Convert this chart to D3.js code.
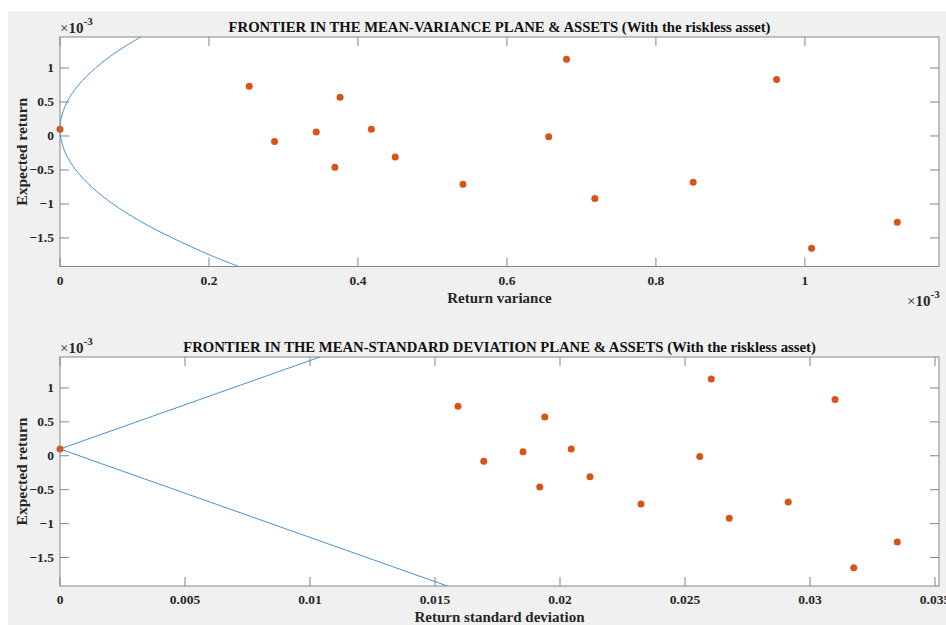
<!DOCTYPE html>
<html>
<head>
<meta charset="utf-8">
<script src="https://cdn.jsdelivr.net/npm/d3@7"></script>
<style>
  body { margin: 0; background: #fff; }
  svg { display: block; }
  text { font-family: "Liberation Serif", "Times New Roman", serif; font-weight: bold; fill: #262626; }
</style>
</head>
<body>
<div id="chart"></div>
<script>
// Asset values (variance and mean in units of 1e-3)
const assetVar  = [0.254, 0.288, 0.344, 0.369, 0.376, 0.418, 0.450, 0.541, 0.656, 0.680, 0.718, 0.850, 0.962, 1.009, 1.124];
const assetStd  = [0.01592, 0.01695, 0.01852, 0.01919, 0.01939, 0.02045, 0.0212, 0.02324, 0.02559, 0.02605, 0.02677, 0.02913, 0.0310, 0.03175, 0.03349];
const assetMean = [0.73, -0.08, 0.06, -0.46, 0.57, 0.10, -0.31, -0.71, -0.01, 1.13, -0.92, -0.68, 0.83, -1.65, -1.27];

// Riskless asset
const risklessMean = 0.1;
const risklessVar = 0;
const risklessStd = 0;

// Frontier in mean-variance plane
const frontierMean = [-1.92, -1.75, -1.5, -1.25, -1.0, -0.75, -0.5, -0.25, 0, 0.1, 0.25, 0.5, 0.75, 1.0, 1.25, 1.46];
const frontierVar  = [0.240, 0.201, 0.151, 0.107, 0.071, 0.0425, 0.0212, 0.0072, 0.0006, 0, 0.0013, 0.0094, 0.0248, 0.0476, 0.0778, 0.1088];

// Frontier in mean-std plane (capital market lines)
const cmlStd  = [0.0104, 0, 0.01551];
const cmlMean = [1.456, 0.1, -1.922];

// Tick labels
const yTicks = [-1.5, -1, -0.5, 0, 0.5, 1];
const xTicksVar = [0, 0.2, 0.4, 0.6, 0.8, 1];
const xTicksStd = [0, 0.005, 0.01, 0.015, 0.02, 0.025, 0.03, 0.035];

const width = 946, height = 625;
const svg = d3.select('#chart').append('svg')
    .attr('width', width)
    .attr('height', height);

// figure background
svg.append('rect')
    .attr('x', 8).attr('y', 11)
    .attr('width', width - 8).attr('height', height - 11)
    .attr('fill', '#f0f0f0');

const axisColor = '#858585';
const tickLen = 9;

function drawPanel(opts) {
    const { left, right, top, bottom, xDomain, xTicks, title, xLabel, points, frontier, xExp, id } = opts;

    const x = d3.scaleLinear().domain(xDomain).range([left, right]);
    const y = d3.scaleLinear().domain([-1.92, 1.456]).range([bottom, top]);

    svg.append('rect')
        .attr('x', left).attr('y', top)
        .attr('width', right - left).attr('height', bottom - top)
        .attr('fill', '#fff');

    svg.append('clipPath').attr('id', id)
        .append('rect')
        .attr('x', left).attr('y', top)
        .attr('width', right - left).attr('height', bottom - top);

    // ticks on all four sides, pointing inward
    const g = svg.append('g');
    const xt = xTicks.filter(d => d >= xDomain[0] && d <= xDomain[1]);
    xt.forEach(d => {
        g.append('line').attr('x1', x(d)).attr('x2', x(d)).attr('y1', bottom).attr('y2', bottom - tickLen)
            .attr('stroke', axisColor);
        g.append('line').attr('x1', x(d)).attr('x2', x(d)).attr('y1', top).attr('y2', top + tickLen)
            .attr('stroke', axisColor);
    });
    yTicks.forEach(d => {
        g.append('line').attr('x1', left).attr('x2', left + tickLen).attr('y1', y(d)).attr('y2', y(d))
            .attr('stroke', axisColor);
        g.append('line').attr('x1', right).attr('x2', right - tickLen).attr('y1', y(d)).attr('y2', y(d))
            .attr('stroke', axisColor);
    });

    // tick labels
    xTicks.forEach(d => {
        svg.append('text')
            .attr('x', x(d)).attr('y', bottom + 18)
            .attr('text-anchor', 'middle')
            .style('font-size', '13.5px')
            .text(d3.format('~g')(d));
    });
    yTicks.forEach(d => {
        svg.append('text')
            .attr('x', left - 6).attr('y', y(d) + 4.5)
            .attr('text-anchor', 'end')
            .style('font-size', '13.5px')
            .text(d3.format('~g')(d));
    });

    // frontier
    svg.append('path')
        .datum(frontier)
        .attr('clip-path', `url(#${id})`)
        .attr('fill', 'none')
        .attr('stroke', '#3d95d6')
        .attr('stroke-width', 1)
        .attr('d', d3.line().x(d => x(d[0])).y(d => y(d[1])).curve(frontier.length > 3 ? d3.curveCatmullRom.alpha(0.5) : d3.curveLinear));

    // assets
    svg.append('g').selectAll('circle')
        .data(points)
        .enter()
        .append('circle')
        .attr('cx', d => x(d[0]))
        .attr('cy', d => y(d[1]))
        .attr('r', 3.5)
        .attr('fill', '#d95319');

    // box
    svg.append('rect')
        .attr('x', left).attr('y', top)
        .attr('width', right - left).attr('height', bottom - top)
        .attr('fill', 'none')
        .attr('stroke', axisColor);

    // title
    svg.append('text')
        .attr('x', (left + right) / 2).attr('y', top - 5)
        .attr('text-anchor', 'middle')
        .style('font-size', '14.7px')
        .style('fill', '#111')
        .text(title);

    // axis labels
    svg.append('text')
        .attr('x', (left + right) / 2).attr('y', bottom + 36)
        .attr('text-anchor', 'middle')
        .style('font-size', '15px')
        .text(xLabel);

    svg.append('text')
        .attr('transform', `translate(${left - 33},${(top + bottom) / 2}) rotate(-90)`)
        .attr('text-anchor', 'middle')
        .style('font-size', '15.5px')
        .text('Expected return');

    // exponent labels
    const yExp = svg.append('text')
        .attr('x', left).attr('y', top - 4)
        .style('font-size', '15px')
        .style('font-weight', 'normal');
    yExp.append('tspan').text('\u00d7');
    yExp.append('tspan').style('font-weight', 'bold').text('10');
    yExp.append('tspan').attr('dy', -8).style('font-size', '11px').style('font-weight', 'bold').text('-3');

    if (xExp) {
        const e = svg.append('text')
            .attr('x', right - 32).attr('y', bottom + 39)
            .style('font-size', '15px')
            .style('font-weight', 'normal');
        e.append('tspan').text('\u00d7');
        e.append('tspan').style('font-weight', 'bold').text('10');
        e.append('tspan').attr('dy', -8).style('font-size', '11px').style('font-weight', 'bold').text('-3');
    }
}

const varPoints = [[risklessVar, risklessMean]].concat(assetVar.map((v, i) => [v, assetMean[i]]));
const stdPoints = [[risklessStd, risklessMean]].concat(assetStd.map((v, i) => [v, assetMean[i]]));

drawPanel({
    id: 'clipTop',
    left: 60, right: 939, top: 37, bottom: 266.5,
    xDomain: [0, 1.18],
    xTicks: xTicksVar,
    title: 'FRONTIER IN THE MEAN-VARIANCE PLANE & ASSETS (With the riskless asset)',
    xLabel: 'Return variance',
    points: varPoints,
    frontier: frontierVar.map((v, i) => [v, frontierMean[i]]),
    xExp: true
});

drawPanel({
    id: 'clipBottom',
    left: 60, right: 939, top: 357, bottom: 586,
    xDomain: [0, 0.03516],
    xTicks: xTicksStd,
    title: 'FRONTIER IN THE MEAN-STANDARD DEVIATION PLANE & ASSETS (With the riskless asset)',
    xLabel: 'Return standard deviation',
    points: stdPoints,
    frontier: cmlStd.map((v, i) => [v, cmlMean[i]]),
    xExp: false
});
</script>
</body>
</html>
